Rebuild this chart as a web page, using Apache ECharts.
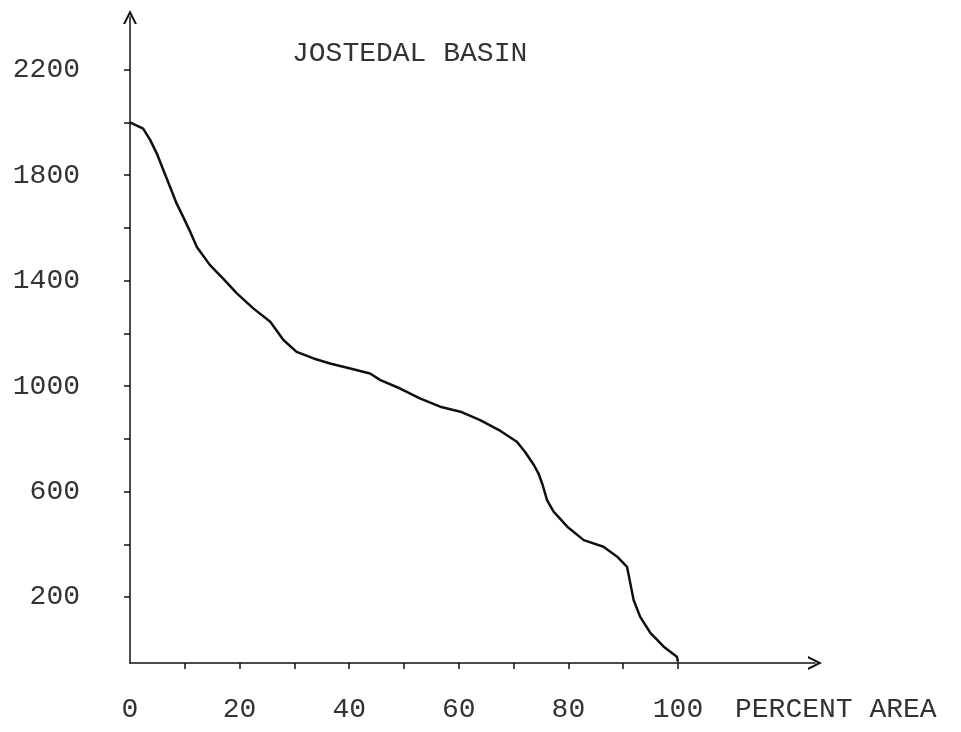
<!DOCTYPE html>
<html>
<head>
<meta charset="utf-8">
<script src="https://cdn.jsdelivr.net/npm/echarts@6/dist/echarts.min.js"></script>
<style>
html,body{margin:0;padding:0;background:#fff;}
#c{width:961px;height:732px;}
</style>
</head>
<body>
<div id="c"></div>
<script>
// ---- data ----
const chartTitle = 'JOSTEDAL BASIN';
const xAxisTitle = 'PERCENT AREA';
const percentArea = [0, 2.4, 3.7, 4.9, 6.1, 7.3, 8.5, 9.7, 11.0, 12.2, 14.6, 17.0, 19.5, 22.5, 25.6, 28.0, 30.4, 33.5, 36.5, 40.2, 43.8, 45.7, 49.3, 53.0, 56.6, 60.3, 63.9, 67.6, 70.6, 72.1, 73.7, 74.6, 75.3, 76.1, 77.3, 79.8, 82.8, 86.4, 88.9, 90.7, 91.3, 91.9, 93.1, 95.0, 97.4, 99.8, 100];
const elevation = [2000, 1977, 1933, 1882, 1819, 1756, 1693, 1642, 1585, 1528, 1459, 1408, 1352, 1295, 1244, 1175, 1130, 1105, 1086, 1067, 1048, 1023, 991, 953, 922, 903, 871, 830, 789, 750, 701, 666, 625, 568, 524, 467, 416, 391, 353, 315, 252, 189, 125, 63, 12, -26, -45];
const xLabelValues = [0, 20, 40, 60, 80, 100];
const xTickValues = [10, 20, 30, 40, 50, 60, 70, 80, 90, 100];
const yLabelValues = [200, 600, 1000, 1400, 1800, 2200];
const yTickValues = [200, 400, 600, 800, 1000, 1200, 1400, 1600, 1800, 2000, 2200];

const seriesData = percentArea.map((x, i) => [x, elevation[i]]);

const font = "'Liberation Mono','DejaVu Sans Mono','Courier New',monospace";
const textColor = '#333';
const inkColor = '#111';
const arrowPath = 'path://M0,10 L5,0 L10,10 L8.4,10 L5,3.2 L1.6,10 Z';
const plain = v => String(v);

const chart = echarts.init(document.getElementById('c'), null, {renderer: 'canvas'});
chart.setOption({
  backgroundColor: '#fff',
  animation: false,
  title: [
    {text: chartTitle, left: 292, top: 40, padding: 0,
     textStyle: {fontFamily: font, fontSize: 28, fontWeight: 'normal', color: textColor}},
    {text: xAxisTitle, left: 735, top: 696, padding: 0,
     textStyle: {fontFamily: font, fontSize: 28, fontWeight: 'normal', color: textColor}}
  ],
  grid: {left: 130, right: 146, top: 17, bottom: 69, containLabel: false},
  xAxis: {
    type: 'value', min: 0, max: 125,
    splitLine: {show: false},
    axisLine: {show: true, onZero: false, symbol: ['none', arrowPath], symbolSize: [14, 18],
               lineStyle: {color: inkColor, width: 1.5}},
    axisTick: {show: true, customValues: xTickValues, length: 6, lineStyle: {color: inkColor, width: 1.5}},
    axisLabel: {customValues: xLabelValues, formatter: plain, margin: 33, fontFamily: font, fontSize: 28, color: textColor}
  },
  yAxis: {
    type: 'value', min: -50, max: 2400,
    splitLine: {show: false},
    axisLine: {show: true, onZero: false, symbol: ['none', arrowPath], symbolSize: [14, 18],
               lineStyle: {color: inkColor, width: 1.5}},
    axisTick: {show: true, customValues: yTickValues, length: 6, lineStyle: {color: inkColor, width: 1.5}},
    axisLabel: {customValues: yLabelValues, formatter: plain, margin: 50, fontFamily: font, fontSize: 28, color: textColor}
  },
  series: [{
    type: 'line',
    data: seriesData,
    symbol: 'none',
    showSymbol: false,
    smooth: false,
    lineStyle: {color: inkColor, width: 2.5}
  }]
});
</script>
</body>
</html>
